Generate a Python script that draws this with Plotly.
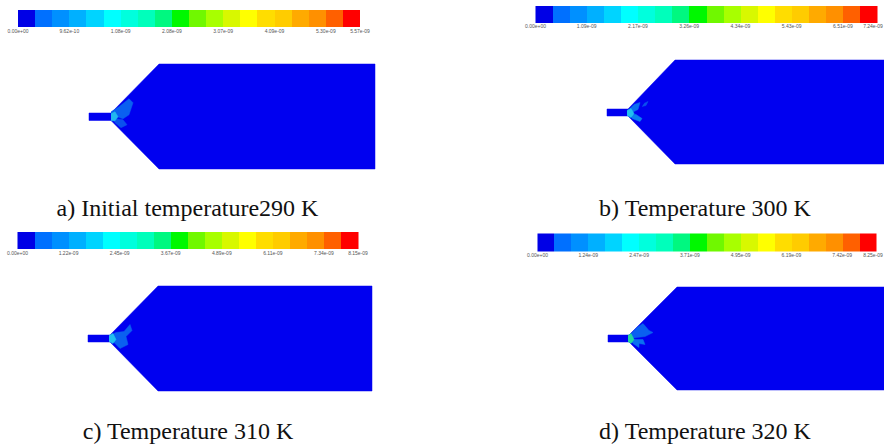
import numpy as np
import plotly.graph_objects as go

band_colors = ["#0000e6","#0070ff","#0090ff","#00b0ff","#00d4ff","#00ffff","#00ffdd","#00ffbb","#00f880","#00f800",
               "#70f800","#a8ff00","#d8f800","#ffff00","#ffdd00","#ffcc00","#ffaa00","#ff9000","#ff6000","#ff0000"]
band_index = list(range(20))
tick_bands = [0, 3, 6, 9, 12, 15, 18, 20]

captions = ["a) Initial temperature290 K", "b) Temperature 300 K", "c) Temperature 310 K", "d) Temperature 320 K"]
ticks_a = ["0.00e+00","9.62e-10","1.08e-09","2.08e-09","3.07e-09","4.09e-09","5.30e-09","5.57e-09"]
ticks_b = ["0.00e+00","1.09e-09","2.17e-09","3.26e-09","4.34e-09","5.43e-09","6.51e-09","7.24e-09"]
ticks_c = ["0.00e+00","1.22e-09","2.45e-09","3.67e-09","4.89e-09","6.11e-09","7.34e-09","8.15e-09"]
ticks_d = ["0.00e+00","1.24e-09","2.47e-09","3.71e-09","4.95e-09","6.19e-09","7.42e-09","8.25e-09"]
tick_sets = [ticks_a, ticks_b, ticks_c, ticks_d]

bar_x = [(18, 360), (535.5, 877), (17.5, 358), (537.5, 876)]
bar_y = [(10, 27), (6, 22.5), (232, 249), (233.5, 251)]
caption_pos = [(187.5, 210), (705, 210), (188, 433), (705, 433)]
# tube x0,x1,y0,y1 ; shoulder x, top y, bottom y, right x
geom = [(89,111,113,120.5,159,64,169,375),
        (607,628,109,116,675,60,164,884),
        (88,110,335,342,158,286,391,372),
        (608,629,335,342,677,287,390,884)]
# plume blotches relative to cone apex (dx, dy from tube centre)
plumes = [
    [([0,8,18,22,18,12,6,0],[-5,-10,-18,-14,-2,2,0,2],"#0a60f0"),
     ([0,6,12,16,10,4],[0,2,3,8,11,6],"#0a50ee"),
     ([0,4,7,4,0],[-3,-5,0,4,4],"#20b8f0")],
    [([0,6,12,10,4,0],[-2,-8,-10,-3,0,2],"#0a70f0"),
     ([0,8,14,12,4],[1,2,6,9,6],"#0a80f0"),
     ([16,20,18,14],[-9,-11,-7,-6],"#0a50ee"),
     ([-1,3,6,3,-1],[-2,-4,1,5,3],"#20c0f0")],
    [([0,6,14,20,22,16,18,10,4],[-3,-6,-7,-14,-8,-2,6,10,4],"#0a60f0"),
     ([-1,3,6,3,-1],[-3,-5,1,5,3],"#20c0f0")],
    [([0,8,14,20,24,16,8,2],[-3,-11,-15,-8,-6,-2,-1,0],"#0a60f0"),
     ([0,6,14,16,10,10,4],[1,1,1,6,5,9,5],"#0a70f0"),
     ([-1,2,5,2,-1],[-3,-5,1,5,3],"#20d8a0")],
]

BLUE = "#0000f0"
fig = go.Figure()
scale = [[i/19, c] for i, c in enumerate(band_colors)]

for i in range(4):
    x0, x1 = bar_x[i]; y0, y1 = bar_y[i]
    edges = np.linspace(x0, x1, len(band_index) + 1)
    fig.add_trace(go.Heatmap(x=edges, y=[y0, y1], z=[band_index], colorscale=scale, zmin=0, zmax=19,
                             showscale=False, hoverinfo="skip"))
    fig.add_trace(go.Scatter(x=[min(edges[b], 873) for b in tick_bands], y=[y1 + 4.5] * 8, text=tick_sets[i], mode="text",
                             textfont=dict(family="Liberation Sans", size=5, color="#555555"),
                             hoverinfo="skip", showlegend=False))
    tx0, tx1, ty0, ty1, sx, top, bot, rx = geom[i]
    fig.add_trace(go.Scatter(x=[tx0, tx1, sx, rx, rx, sx, tx1, tx0, tx0],
                             y=[ty0, ty0, top, top, bot, bot, ty1, ty1, ty0],
                             mode="lines", fill="toself", fillcolor=BLUE, line=dict(color=BLUE, width=0.5),
                             hoverinfo="skip", showlegend=False))
    cy = (ty0 + ty1) / 2
    for dx, dy, col in plumes[i]:
        fig.add_trace(go.Scatter(x=[tx1 + v for v in dx], y=[cy + v for v in dy], mode="lines", fill="toself",
                                 fillcolor=col, line=dict(color=col, width=0.5), hoverinfo="skip", showlegend=False))
    fig.add_trace(go.Scatter(x=[caption_pos[i][0]], y=[caption_pos[i][1]], text=[captions[i]], mode="text",
                             textfont=dict(family="Liberation Serif", size=24, color="#111111"),
                             hoverinfo="skip", showlegend=False))

fig.update_layout(width=884, height=447, margin=dict(l=0, r=0, t=0, b=0), autosize=False,
                  paper_bgcolor="white", plot_bgcolor="white", showlegend=False,
                  xaxis=dict(range=[0, 884], visible=False, fixedrange=True),
                  yaxis=dict(range=[447, 0], visible=False, fixedrange=True))
fig.write_html("out.html", config={"displayModeBar": False},
               post_script="document.body.style.margin='0';document.body.style.overflow='hidden';")
